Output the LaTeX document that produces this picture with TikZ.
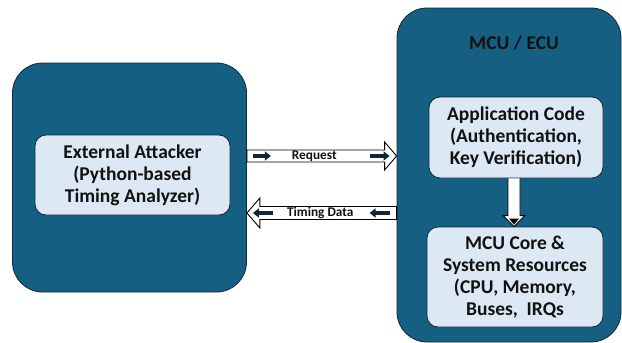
\documentclass[tikz,border=0pt]{standalone}
\usepackage{fontspec}
\setmainfont{Carlito}
\usetikzlibrary{calc,arrows.meta}
\definecolor{darkbl}{HTML}{156082}
\definecolor{lightbl}{HTML}{DCE8F4}
\definecolor{edgec}{HTML}{10263A}
\definecolor{txt}{HTML}{111111}
\tikzset{
  bigbox/.style={draw=edgec, line width=0.8pt, fill=darkbl, rounded corners=30pt},
  innerbox/.style={draw=edgec, line width=0.8pt, fill=lightbl, rounded corners=11pt,
    align=center, text=txt, font=\bfseries\fontsize{19.5}{22}\selectfont},
  blockarrow/.style={draw=black, line width=0.9pt, fill=white, line join=miter},
  tinyarrow/.style={line width=4pt, draw=edgec, -{Triangle[length=6pt,width=9pt]}, shorten >=-3pt},
  arrowlabel/.style={font=\bfseries\fontsize{13.3}{14}\selectfont, text=txt, inner sep=0pt},
  titletext/.style={font=\bfseries\fontsize{19.5}{22}\selectfont, text=txt}
}
\begin{document}
\begin{tikzpicture}[x=1pt,y=-1pt]
\useasboundingbox (0,0) rectangle (622,343);
% big boxes
\node[bigbox, minimum width=234pt, minimum height=229pt, inner sep=0pt] (L) at (129.5,177.5) {};
\node[bigbox, minimum width=224pt, minimum height=334pt, inner sep=0pt] (R) at (509,175) {};
% inner boxes
\node[innerbox, minimum width=195pt, minimum height=80pt, inner sep=2pt] (att) at (132.5,175)
  {External Attacker\\(Python-based\\Timing Analyzer)};
\node[innerbox, minimum width=174pt, minimum height=81pt, inner sep=2pt] (app) at (516,137.5)
  {Application Code\\(Authentication,\\Key Verification)};
\node[innerbox, minimum width=176pt, minimum height=100pt, inner sep=2pt] (core) at (515,277)
  {MCU Core \&\\System Resources\\(CPU, Memory,\\Buses,\ \ IRQs};
\node[titletext] (title) at (514,43) {MCU / ECU};
% request arrow
\coordinate (rq1) at (L.east |- 0,156);
\coordinate (rq2) at (R.west |- 0,156);
\draw[blockarrow] ($(rq1)+(0,-6)$) -- ($(rq2)+(-12,-6)$) -- ($(rq2)+(-12,-14)$) -- (rq2)
  -- ($(rq2)+(-12,14)$) -- ($(rq2)+(-12,6)$) -- ($(rq1)+(0,6)$) -- cycle;
\draw[tinyarrow] ($(rq1)+(6,0)$) -- ($(rq1)+(21,0)$);
\draw[tinyarrow] ($(rq2)+(-27,0)$) -- ($(rq2)+(-10,0)$);
\node[arrowlabel] (reqlab) at ($(rq1)!0.45!(rq2)$) {Request};
% timing data arrow
\coordinate (td1) at (R.west |- 0,213);
\coordinate (td2) at (L.east |- 0,213);
\draw[blockarrow] ($(td1)+(0,-6.5)$) -- ($(td2)+(13,-6.5)$) -- ($(td2)+(13,-15)$) -- (td2)
  -- ($(td2)+(13,15)$) -- ($(td2)+(13,6.5)$) -- ($(td1)+(0,6.5)$) -- cycle;
\draw[tinyarrow] ($(td1)+(-7,0)$) -- ($(td1)+(-24,0)$);
\draw[tinyarrow] ($(td2)+(26,0)$) -- ($(td2)+(9,0)$);
\node[arrowlabel] (tdlab) at ($(td2)!0.49!(td1)$) {Timing Data};
% down arrow
\coordinate (d1) at (app.south -| 514,0);
\coordinate (d2) at (core.north -| 514,0);
\draw[blockarrow] ($(d1)+(-6,0)$) -- ($(d2)+(-6,-11)$) -- ($(d2)+(-11,-11)$) -- (d2)
  -- ($(d2)+(11,-11)$) -- ($(d2)+(6,-11)$) -- ($(d1)+(6,0)$);
\fill[black] ($(d2)+(-5,-8)$) -- ($(d2)+(5,-8)$) -- ($(d2)+(0,-2)$) -- cycle;
\end{tikzpicture}
\end{document}
